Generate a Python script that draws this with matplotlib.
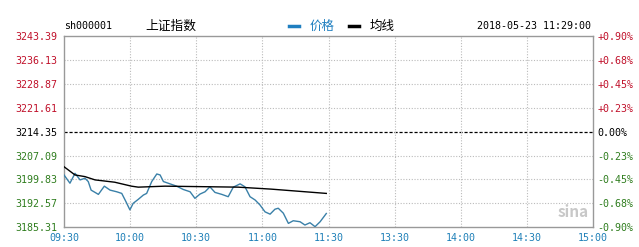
import matplotlib
matplotlib.use("Agg")
import matplotlib.pyplot as plt
from matplotlib.lines import Line2D

plt.rcParams['font.family'] = ['Noto Sans CJK SC', 'DejaVu Sans']

# data
code = "sh000001"
name = "上证指数"
stamp = "2018-05-23 11:29:00"
prev_close = 3214.35

price_min = [0, 2.7, 5, 7.3, 9.5, 11, 12.3, 14.1, 15.6, 18.3, 20.9, 23.9, 26.2, 28.1,
             29.9, 31.4, 33.7, 36, 37.5, 39.8, 42.1, 43.6, 45.1, 48.1, 51.1, 54.1,
             57.2, 59.4, 61.7, 64, 66.2, 68.5, 71.6, 74.5, 76.8, 79.9, 82.1, 84.4,
             86.7, 88.9, 91.2, 93.5, 95.7, 97.2, 99.5, 101.8, 104, 107.1, 109.3,
             111.6, 113.9, 116.2, 119]
price = [3201.2, 3198.7, 3201.7, 3199.7, 3200.2, 3199.2, 3196.6, 3195.9, 3195.3,
         3197.8, 3196.6, 3196.1, 3195.6, 3193.1, 3190.6, 3192.6, 3193.8, 3195.1,
         3195.6, 3199.2, 3201.5, 3201.2, 3199.2, 3198.5, 3197.8, 3196.8, 3196.1,
         3194.1, 3195.4, 3196.1, 3197.6, 3195.9, 3195.3, 3194.6, 3197.5, 3198.5,
         3197.6, 3194.6, 3193.6, 3192.1, 3190.0, 3189.3, 3190.8, 3191.1, 3189.6,
         3186.5, 3187.3, 3187.0, 3186.0, 3186.7, 3185.5, 3187.0, 3189.5]

avg_min = [0, 5, 9.5, 14.1, 23, 30.6, 33.7, 45.8, 79, 94, 119]
avg = [3203.7, 3201.2, 3200.7, 3199.7, 3199.0, 3197.8, 3197.5, 3197.8, 3197.5,
       3196.9, 3195.6]

y_ticks = [3185.31, 3192.57, 3199.83, 3207.09, 3214.35, 3221.61, 3228.87, 3236.13, 3243.39]
pct_labels = ["-0.90%", "-0.68%", "-0.45%", "-0.23%", "0.00%", "+0.23%", "+0.45%", "+0.68%", "+0.90%"]
x_ticks = [0, 30, 60, 90, 120, 150, 180, 210, 240]
x_labels = ["09:30", "10:00", "10:30", "11:00", "11:30", "13:30", "14:00", "14:30", "15:00"]

RED = "#c0102a"
GREEN = "#2f7d1e"
BLUE = "#3a80a8"
TICKBLUE = "#1f80b8"
MONO = "DejaVu Sans Mono"

fig = plt.figure(figsize=(6.39, 2.47), dpi=100)
ax = fig.add_axes([64 / 639, 1 - 227.3 / 247, 529 / 639, 191.3 / 247])

ax.set_xlim(0, 240)
ax.set_ylim(y_ticks[0], y_ticks[-1])

# grid
for yv in y_ticks[1:-1]:
    if yv == prev_close:
        ax.axhline(yv, color="black", lw=0.9, ls=(0, (2.5, 1.5)), zorder=1)
    else:
        ax.axhline(yv, color="#bbbbbb", lw=0.8, ls=(0, (1, 1.5)), zorder=1)
for xv in x_ticks[1:-1]:
    ax.axvline(xv, color="#bbbbbb", lw=0.8, ls=(0, (1, 1.5)), zorder=1)

ax.plot(price_min, price, color=BLUE, lw=1.0, zorder=3)
ax.plot(avg_min, avg, color="black", lw=1.0, zorder=3)

for s in ax.spines.values():
    s.set_color("#999999")
    s.set_linewidth(1.0)

def side_color(v):
    if v > prev_close + 0.001:
        return RED
    if v < prev_close - 0.001:
        return GREEN
    return "black"

ax.set_yticks(y_ticks)
ax.set_yticklabels(["%.2f" % v for v in y_ticks], fontfamily=MONO, fontsize=7.2)
for lab, v in zip(ax.get_yticklabels(), y_ticks):
    lab.set_color(side_color(v))
ax.set_xticks(x_ticks)
ax.set_xticklabels(x_labels, fontfamily=MONO, fontsize=7.2, color=TICKBLUE)
ax.tick_params(axis="both", length=0)
ax.tick_params(axis="y", pad=5)
ax.tick_params(axis="x", pad=4)

ax2 = ax.twinx()
ax2.set_ylim(ax.get_ylim())
ax2.set_yticks(y_ticks)
ax2.set_yticklabels(pct_labels, fontfamily=MONO, fontsize=7.2)
for lab, v in zip(ax2.get_yticklabels(), y_ticks):
    lab.set_color(side_color(v))
ax2.tick_params(axis="y", length=0, pad=3)
for s in ax2.spines.values():
    s.set_visible(False)

# header
ty = 1 - 26 / 247
fig.text(64 / 639, ty, code, fontfamily=MONO, fontsize=7.2, va="center", ha="left")
fig.text(171 / 639, ty, name, fontsize=9.2, va="center", ha="center")
fig.add_artist(Line2D([289 / 639, 299 / 639], [ty, ty], color="#1f7fc0", lw=2.5))
fig.text(310 / 639, ty, "价格", fontsize=9, va="center", ha="left", color="#1f7fc0")
fig.add_artist(Line2D([349 / 639, 359 / 639], [ty, ty], color="black", lw=2.5))
fig.text(370 / 639, ty, "均线", fontsize=9, va="center", ha="left")
fig.text(591 / 639, ty, stamp, fontfamily=MONO, fontsize=7.2, va="center", ha="right")

# watermark
fig.text(573 / 639, 1 - 212 / 247, "sina", fontsize=11, style="italic",
         color="#c8c8c8", ha="center", va="center", fontweight="bold")

fig.savefig("out.png", dpi=100)
